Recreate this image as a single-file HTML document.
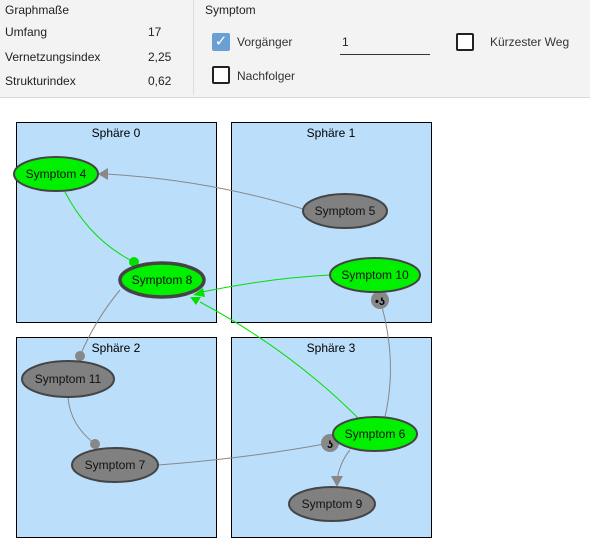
<!DOCTYPE html>
<html><head><meta charset="utf-8"><style>
body{margin:0;width:590px;height:550px;overflow:hidden;background:#fff;font-family:"Liberation Sans",sans-serif;}
.hdr{position:absolute;left:0;top:0;width:590px;height:97px;background:#f3f3f3;border-bottom:1px solid #d8d8d8;}
.t{position:absolute;font-size:12px;color:#222;}
.cb{position:absolute;width:14px;height:14px;border:2px solid #222;border-radius:2px;background:#fff;}
</style></head><body>
<div class="hdr">
<div class="t" style="left:5px;top:3px">Graphmaße</div>
<div class="t" style="left:5px;top:25px">Umfang</div><div class="t" style="left:148px;top:25px">17</div>
<div class="t" style="left:5px;top:50px">Vernetzungsindex</div><div class="t" style="left:148px;top:50px">2,25</div>
<div class="t" style="left:5px;top:74px">Strukturindex</div><div class="t" style="left:148px;top:74px">0,62</div>
<div style="position:absolute;left:193px;top:0;width:1px;height:95px;background:#ddd"></div>
<div class="t" style="left:205px;top:3px">Symptom</div>
<div style="position:absolute;left:212px;top:33px;width:18px;height:18px;background:#6a9fd4;border-radius:2px;color:#fff;font-size:15px;line-height:18px;text-align:center">✓</div>
<div class="t" style="left:237px;top:35px;color:#333">Vorgänger</div>
<div class="t" style="left:342px;top:35px">1</div>
<div style="position:absolute;left:340px;top:54px;width:90px;height:1px;background:#333"></div>
<div class="cb" style="left:456px;top:33px"></div>
<div class="t" style="left:490px;top:35px;color:#333">Kürzester Weg</div>
<div class="cb" style="left:212px;top:66px"></div>
<div class="t" style="left:237px;top:69px;color:#333">Nachfolger</div>
</div>
<svg width="590" height="550" style="position:absolute;left:0;top:0" font-family="Liberation Sans, sans-serif" font-size="12">
<g fill="#bbdefb" stroke="#000" stroke-width="1">
<rect x="16.5" y="122.5" width="200" height="200"/><rect x="231.5" y="122.5" width="200" height="200"/>
<rect x="16.5" y="337.5" width="200" height="200"/><rect x="231.5" y="337.5" width="200" height="200"/>
</g>
<g text-anchor="middle" fill="#000">
<text x="116" y="137">Sphäre 0</text><text x="331" y="137">Sphäre 1</text>
<text x="116" y="352">Sphäre 2</text><text x="331" y="352">Sphäre 3</text>
</g>
<g fill="none" stroke-width="1">
<path d="M303,209 Q210,180 106,174" stroke="#888"/>
<path d="M65,192 Q90,240 134,262" stroke="#00e000"/>
<path d="M330,275 Q270,278 202,292" stroke="#00e000"/>
<path d="M358,418 Q290,350 200,302" stroke="#00e000"/>
<path d="M120,290 Q95,320 80,356" stroke="#888"/>
<path d="M68,397 Q70,425 95,444" stroke="#888"/>
<path d="M158,465 Q250,458 330,443" stroke="#888"/>
<path d="M380,300 Q398,360 385,417" stroke="#888"/>
<path d="M350,450 Q340,462 337,480" stroke="#888"/>
</g>
<polygon points="98,174 108,168 108,180" fill="#888"/>
<polygon points="193,295 203,288 205,297" fill="#00e000"/>
<polygon points="190,297 201,297 196,305" fill="#00e000"/>
<polygon points="337,487 331,476 343,476" fill="#888"/>
<circle cx="134" cy="262" r="5" fill="#00e000"/>
<circle cx="80" cy="356" r="5" fill="#888"/>
<circle cx="95" cy="444" r="5" fill="#888"/>
<circle cx="380" cy="300" r="9" fill="#888"/><text x="380" y="305" text-anchor="middle" font-size="11" font-weight="bold">•ʖ</text>
<circle cx="330" cy="443" r="9" fill="#888"/><text x="330" y="448" text-anchor="middle" font-size="11" font-weight="bold">ʖ</text>
<g stroke="#444" stroke-width="2">
<ellipse cx="56" cy="174" rx="42" ry="17" fill="#00f000"/>
<ellipse cx="345" cy="211" rx="42" ry="17" fill="#808080"/>
<ellipse cx="162" cy="280" rx="42" ry="17" fill="#00f000" stroke-width="3.5"/>
<ellipse cx="375" cy="275" rx="45" ry="17" fill="#00f000"/>
<ellipse cx="68" cy="379" rx="46" ry="18" fill="#808080"/>
<ellipse cx="115" cy="465" rx="43" ry="17" fill="#808080"/>
<ellipse cx="375" cy="434" rx="42" ry="17" fill="#00f000"/>
<ellipse cx="332" cy="504" rx="43" ry="17" fill="#808080"/>
</g>
<g text-anchor="middle" fill="#111">
<text x="56" y="178">Symptom 4</text><text x="345" y="215">Symptom 5</text>
<text x="162" y="284">Symptom 8</text><text x="375" y="279">Symptom 10</text>
<text x="68" y="383">Symptom 11</text><text x="115" y="469">Symptom 7</text>
<text x="375" y="438">Symptom 6</text><text x="332" y="508">Symptom 9</text>
</g>
</svg>
</body></html>
